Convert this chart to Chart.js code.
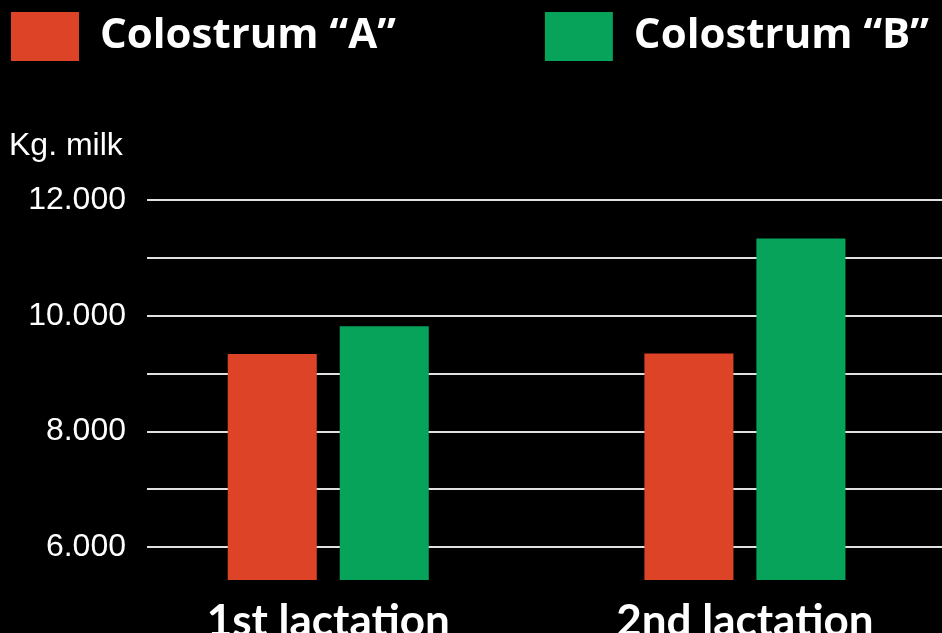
<!DOCTYPE html>
<html>
<head>
<meta charset="utf-8">
<script src="https://cdn.jsdelivr.net/npm/chart.js@4.4.0/dist/chart.umd.min.js"></script>
<style>
  html, body { margin: 0; padding: 0; background: #000; }
  #wrap { width: 942px; height: 633px; position: relative; }
</style>
</head>
<body>
<div id="wrap"><canvas id="milk-chart"></canvas></div>
<script>
var lactations = ["1st lactation", "2nd lactation"];
var seriesNames = ["Colostrum “A”", "Colostrum “B”"];
var colostrumA = [9340, 9350];
var colostrumB = [9820, 11340];
var yTickValues = [6000, 7000, 8000, 9000, 10000, 11000, 12000];
var yTickLabels = ["6.000", "", "8.000", "", "10.000", "", "12.000"];

var legendFont = { family: 'Open Sans', weight: 'bold', size: 42 };
var catFont = { family: 'Lato', weight: 'bold', size: 44 };
var plainFont = { family: 'Liberation Sans', weight: 'normal', size: 32 };

// bars sit on a linear x axis so the two groups can be placed like the original
function points(values) {
  return values.map(function (v, i) { return { x: i, y: v }; });
}

var ctx = document.getElementById("milk-chart").getContext('2d');
var myChart = new Chart(ctx, {
  type: 'bar',
  data: {
    datasets: [{
      label: seriesNames[0],
      data: points(colostrumA),
      backgroundColor: '#dd4327'
    }, {
      label: seriesNames[1],
      data: points(colostrumB),
      backgroundColor: '#07a35b'
    }]
  },
  options: {
    responsive: true,
    maintainAspectRatio: false,
    animation: false,
    layout: { padding: { left: 9, top: 10, right: 0, bottom: 0 } },
    datasets: {
      bar: { categoryPercentage: 0.5376, barPercentage: 0.795 }
    },
    plugins: {
      tooltip: { enabled: false },
      legend: {
        align: 'start',
        weight: 3000,
        labels: {
          color: '#fff',
          font: legendFont,
          boxWidth: 68,
          boxHeight: 49,
          padding: 2,
          generateLabels: function (chart) {
            var items = Chart.defaults.plugins.legend.labels.generateLabels(chart);
            // wide gap between the two legend entries
            items[0].text += '\u2003\u2003\u2003\u2002';
            return items;
          }
        }
      },
      title: {
        display: true,
        text: 'Kg. milk',
        align: 'start',
        color: '#fff',
        font: plainFont,
        padding: { top: 56, bottom: 35 }
      }
    },
    scales: {
      x: {
        type: 'linear',
        min: -0.435,
        max: 1.473,
        offset: false,
        grid: { display: false, drawTicks: false },
        border: { display: false },
        afterBuildTicks: function (axis) {
          axis.ticks = lactations.map(function (c, i) { return { value: i }; });
        },
        afterFit: function (scale) { scale.height = 53; },
        ticks: {
          color: '#fff',
          font: catFont,
          padding: 15,
          maxRotation: 0,
          autoSkip: false,
          callback: function (value) { return lactations[value]; }
        }
      },
      y: {
        min: 5430,
        max: 12000,
        beginAtZero: false,
        afterBuildTicks: function (axis) {
          axis.ticks = yTickValues.map(function (v) { return { value: v }; });
        },
        afterFit: function (scale) { scale.width = 138; },
        grid: { color: 'rgba(255,255,255,0.88)', lineWidth: 2, drawTicks: false },
        border: { display: false },
        ticks: {
          color: '#fff',
          font: plainFont,
          padding: 21,
          callback: function (value, index) { return yTickLabels[index]; }
        }
      }
    }
  }
});
</script>
</body>
</html>
